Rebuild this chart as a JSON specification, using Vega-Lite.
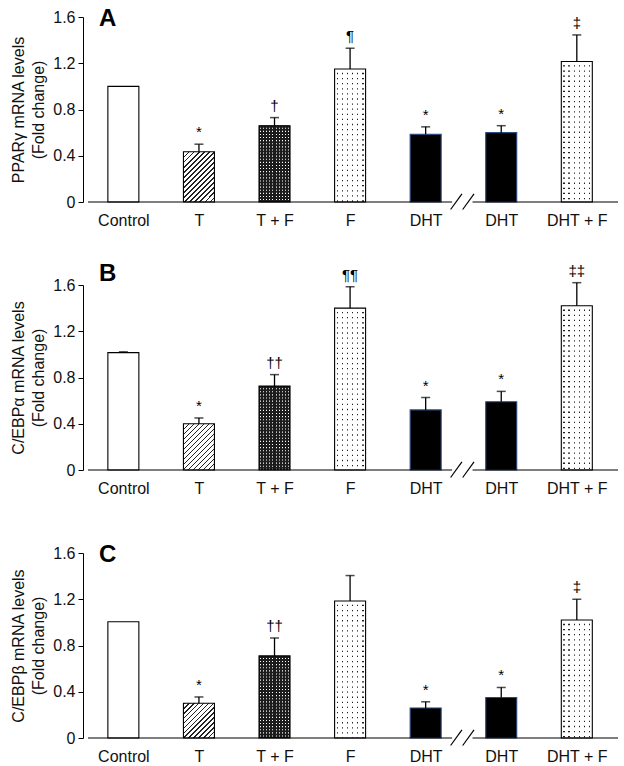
{
  "$schema": "https://vega.github.io/schema/vega-lite/v6.json",
  "autosize": {"type": "pad"},
  "padding": {"left": 10, "top": 7, "right": 0, "bottom": 0},
  "background": "white",
  "config": {
    "view": {"stroke": null},
    "font": "Liberation Sans",
    "axis": {"labelFont": "Liberation Sans", "titleFont": "Liberation Sans", "labelFontSize": 16, "titleFontSize": 16, "labelColor": "#111", "titleColor": "#111", "domainColor": "#000", "tickColor": "#000", "grid": false, "titleFontWeight": "normal"},
    "title": {"font": "Liberation Sans", "fontSize": 24, "fontWeight": "bold", "anchor": "start", "frame": "group", "color": "#000"}
  },
  "datasets": {
    "bars": [
      {"panel": "A", "grp": "Control", "idx": 1, "value": 1.0, "err": null, "ann": ""},
      {"panel": "A", "grp": "T", "idx": 2, "value": 0.435, "err": 0.5, "ann": "*"},
      {"panel": "A", "grp": "T + F", "idx": 3, "value": 0.66, "err": 0.73, "ann": "†"},
      {"panel": "A", "grp": "F", "idx": 4, "value": 1.15, "err": 1.33, "ann": "¶"},
      {"panel": "A", "grp": "DHT", "idx": 5, "value": 0.585, "err": 0.65, "ann": "*"},
      {"panel": "A", "grp": "DHT", "idx": 6, "value": 0.6, "err": 0.66, "ann": "*"},
      {"panel": "A", "grp": "DHT + F", "idx": 7, "value": 1.215, "err": 1.445, "ann": "‡"},
      {"panel": "B", "grp": "Control", "idx": 1, "value": 1.015, "err": 1.022, "ann": ""},
      {"panel": "B", "grp": "T", "idx": 2, "value": 0.4, "err": 0.45, "ann": "*"},
      {"panel": "B", "grp": "T + F", "idx": 3, "value": 0.725, "err": 0.825, "ann": "††"},
      {"panel": "B", "grp": "F", "idx": 4, "value": 1.4, "err": 1.585, "ann": "¶¶"},
      {"panel": "B", "grp": "DHT", "idx": 5, "value": 0.52, "err": 0.627, "ann": "*"},
      {"panel": "B", "grp": "DHT", "idx": 6, "value": 0.59, "err": 0.68, "ann": "*"},
      {"panel": "B", "grp": "DHT + F", "idx": 7, "value": 1.42, "err": 1.62, "ann": "‡‡"},
      {"panel": "C", "grp": "Control", "idx": 1, "value": 1.005, "err": null, "ann": ""},
      {"panel": "C", "grp": "T", "idx": 2, "value": 0.3, "err": 0.355, "ann": "*"},
      {"panel": "C", "grp": "T + F", "idx": 3, "value": 0.71, "err": 0.865, "ann": "††"},
      {"panel": "C", "grp": "F", "idx": 4, "value": 1.185, "err": 1.405, "ann": ""},
      {"panel": "C", "grp": "DHT", "idx": 5, "value": 0.26, "err": 0.313, "ann": "*"},
      {"panel": "C", "grp": "DHT", "idx": 6, "value": 0.35, "err": 0.437, "ann": "*"},
      {"panel": "C", "grp": "DHT + F", "idx": 7, "value": 1.02, "err": 1.2, "ann": "‡"}
    ],
    "baseline": [
      {"from": 0.532, "to": 5.35},
      {"from": 5.62, "to": 7.545}
    ],
    "breaks": [
      {"from": 5.33, "to": 5.48, "lo": -0.065, "hi": 0.07},
      {"from": 5.49, "to": 5.64, "lo": -0.065, "hi": 0.07}
    ]
  },
  "vconcat": [
    {
      "width": 540, "height": 185,
      "title": {"text": "A", "dx": 16, "offset": -22},
      "layer": [
        {
          "data": {"name": "bars"},
          "transform": [{"filter": "datum.panel === 'A'"}],
          "mark": {"type": "bar", "width": 31, "strokeWidth": 0},
          "encoding": {
            "x": {"field": "idx", "type": "quantitative", "scale": {"domain": [0.532, 7.545], "nice": false, "zero": false},
              "axis": {"values": [1, 2, 3, 4, 5, 6, 7], "ticks": false, "domain": false, "labelPadding": 10, "title": null, "labelFlush": false, "labelOverlap": false,
                "labelExpr": "['', 'Control', 'T', 'T + F', 'F', 'DHT', 'DHT', 'DHT + F'][datum.value]"}},
            "y": {"field": "value", "type": "quantitative", "scale": {"domain": [0, 1.6], "nice": false},
              "axis": {"values": [0, 0.4, 0.8, 1.2, 1.6], "tickSize": 5, "labelPadding": 3, "titlePadding": 6, "titleLineHeight": 20,
                "labelExpr": "datum.value === 0 ? '0' : format(datum.value, '.1f')",
                "title": ["PPARγ mRNA levels", "(Fold change)"]}},
            "fill": {"field": "grp", "type": "nominal", "legend": null,
              "scale": {"domain": ["Control", "T", "T + F", "F", "DHT", "DHT + F"], "range": ["#ffffff", "#ffffff", "#1c1c1c", "#ffffff", "#000000", "#ffffff"]}}
          }
        },
        {
          "data": {"name": "bars"},
          "transform": [{"filter": "datum.panel === 'A' && datum.grp === 'T'"}],
          "mark": {"type": "bar", "width": 31, "strokeWidth": 0, "fill": {"gradient": "linear", "x1": 0, "y1": 0, "x2": 1, "y2": 1.62, "stops": [
            {"offset": 0, "color": "#222"}, {"offset": 0.015, "color": "#222"}, {"offset": 0.015, "color": "#fff"}, {"offset": 0.045, "color": "#fff"},
            {"offset": 0.045, "color": "#222"}, {"offset": 0.06, "color": "#222"}, {"offset": 0.06, "color": "#fff"}, {"offset": 0.09, "color": "#fff"},
            {"offset": 0.09, "color": "#222"}, {"offset": 0.105, "color": "#222"}, {"offset": 0.105, "color": "#fff"}, {"offset": 0.135, "color": "#fff"},
            {"offset": 0.135, "color": "#222"}, {"offset": 0.15, "color": "#222"}, {"offset": 0.15, "color": "#fff"}, {"offset": 0.18, "color": "#fff"},
            {"offset": 0.18, "color": "#222"}, {"offset": 0.195, "color": "#222"}, {"offset": 0.195, "color": "#fff"}, {"offset": 0.225, "color": "#fff"},
            {"offset": 0.225, "color": "#222"}, {"offset": 0.24, "color": "#222"}, {"offset": 0.24, "color": "#fff"}, {"offset": 0.27, "color": "#fff"},
            {"offset": 0.27, "color": "#222"}, {"offset": 0.285, "color": "#222"}, {"offset": 0.285, "color": "#fff"}, {"offset": 0.315, "color": "#fff"},
            {"offset": 0.315, "color": "#222"}, {"offset": 0.33, "color": "#222"}, {"offset": 0.33, "color": "#fff"}, {"offset": 0.36, "color": "#fff"},
            {"offset": 0.36, "color": "#222"}, {"offset": 0.375, "color": "#222"}, {"offset": 0.375, "color": "#fff"}, {"offset": 0.405, "color": "#fff"},
            {"offset": 0.405, "color": "#222"}, {"offset": 0.42, "color": "#222"}, {"offset": 0.42, "color": "#fff"}, {"offset": 0.45, "color": "#fff"},
            {"offset": 0.45, "color": "#222"}, {"offset": 0.465, "color": "#222"}, {"offset": 0.465, "color": "#fff"}, {"offset": 0.495, "color": "#fff"},
            {"offset": 0.495, "color": "#222"}, {"offset": 0.51, "color": "#222"}, {"offset": 0.51, "color": "#fff"}, {"offset": 0.54, "color": "#fff"},
            {"offset": 0.54, "color": "#222"}, {"offset": 0.555, "color": "#222"}, {"offset": 0.555, "color": "#fff"}, {"offset": 0.585, "color": "#fff"},
            {"offset": 0.585, "color": "#222"}, {"offset": 0.6, "color": "#222"}, {"offset": 0.6, "color": "#fff"}, {"offset": 0.63, "color": "#fff"},
            {"offset": 0.63, "color": "#222"}, {"offset": 0.645, "color": "#222"}, {"offset": 0.645, "color": "#fff"}, {"offset": 0.675, "color": "#fff"},
            {"offset": 0.675, "color": "#222"}, {"offset": 0.69, "color": "#222"}, {"offset": 0.69, "color": "#fff"}, {"offset": 0.72, "color": "#fff"},
            {"offset": 0.72, "color": "#222"}, {"offset": 0.735, "color": "#222"}, {"offset": 0.735, "color": "#fff"}, {"offset": 0.765, "color": "#fff"},
            {"offset": 0.765, "color": "#222"}, {"offset": 0.78, "color": "#222"}, {"offset": 0.78, "color": "#fff"}, {"offset": 1, "color": "#fff"}
          ]}},
          "encoding": {"x": {"field": "idx", "type": "quantitative"}, "y": {"field": "value", "type": "quantitative"}}
        },
        {
          "data": {"name": "bars"},
          "transform": [{"filter": "datum.panel === 'A' && (datum.grp === 'F' || datum.grp === 'DHT + F')"}],
          "mark": {"type": "bar", "width": 31, "strokeWidth": 0, "fill": {"gradient": "linear", "x1": 0, "y1": 0, "x2": 1, "y2": 0, "stops": [
            {"offset": 0, "color": "#fff"},
            {"offset": 0.062, "color": "#fff"}, {"offset": 0.062, "color": "#222"}, {"offset": 0.104, "color": "#222"}, {"offset": 0.104, "color": "#fff"},
            {"offset": 0.229, "color": "#fff"}, {"offset": 0.229, "color": "#222"}, {"offset": 0.271, "color": "#222"}, {"offset": 0.271, "color": "#fff"},
            {"offset": 0.396, "color": "#fff"}, {"offset": 0.396, "color": "#222"}, {"offset": 0.438, "color": "#222"}, {"offset": 0.438, "color": "#fff"},
            {"offset": 0.562, "color": "#fff"}, {"offset": 0.562, "color": "#222"}, {"offset": 0.604, "color": "#222"}, {"offset": 0.604, "color": "#fff"},
            {"offset": 0.729, "color": "#fff"}, {"offset": 0.729, "color": "#222"}, {"offset": 0.771, "color": "#222"}, {"offset": 0.771, "color": "#fff"},
            {"offset": 0.896, "color": "#fff"}, {"offset": 0.896, "color": "#222"}, {"offset": 0.938, "color": "#222"}, {"offset": 0.938, "color": "#fff"},
            {"offset": 1, "color": "#fff"}
          ]}},
          "encoding": {"x": {"field": "idx", "type": "quantitative"}, "y": {"field": "value", "type": "quantitative"}}
        },
        {
          "data": {"name": "bars"},
          "transform": [{"filter": "datum.panel === 'A' && (datum.grp === 'F' || datum.grp === 'DHT + F')"}],
          "mark": {"type": "rule", "color": "#fff", "strokeWidth": 30, "strokeDash": [3.8, 1.3]},
          "encoding": {"x": {"field": "idx", "type": "quantitative"}, "y": {"field": "value", "type": "quantitative"}, "y2": {"datum": 0}}
        },
        {
          "data": {"name": "bars"},
          "transform": [{"filter": "datum.panel === 'A' && datum.grp === 'T + F'"}],
          "mark": {"type": "bar", "width": 31, "strokeWidth": 0, "fill": {"gradient": "linear", "x1": 0, "y1": 0, "x2": 1, "y2": 0, "stops": [
            {"offset": 0, "color": "#1c1c1c"},
            {"offset": 0.034, "color": "#1c1c1c"}, {"offset": 0.034, "color": "#fff"}, {"offset": 0.066, "color": "#fff"}, {"offset": 0.066, "color": "#1c1c1c"},
            {"offset": 0.134, "color": "#1c1c1c"}, {"offset": 0.134, "color": "#fff"}, {"offset": 0.166, "color": "#fff"}, {"offset": 0.166, "color": "#1c1c1c"},
            {"offset": 0.234, "color": "#1c1c1c"}, {"offset": 0.234, "color": "#fff"}, {"offset": 0.266, "color": "#fff"}, {"offset": 0.266, "color": "#1c1c1c"},
            {"offset": 0.334, "color": "#1c1c1c"}, {"offset": 0.334, "color": "#fff"}, {"offset": 0.366, "color": "#fff"}, {"offset": 0.366, "color": "#1c1c1c"},
            {"offset": 0.434, "color": "#1c1c1c"}, {"offset": 0.434, "color": "#fff"}, {"offset": 0.466, "color": "#fff"}, {"offset": 0.466, "color": "#1c1c1c"},
            {"offset": 0.534, "color": "#1c1c1c"}, {"offset": 0.534, "color": "#fff"}, {"offset": 0.566, "color": "#fff"}, {"offset": 0.566, "color": "#1c1c1c"},
            {"offset": 0.634, "color": "#1c1c1c"}, {"offset": 0.634, "color": "#fff"}, {"offset": 0.666, "color": "#fff"}, {"offset": 0.666, "color": "#1c1c1c"},
            {"offset": 0.734, "color": "#1c1c1c"}, {"offset": 0.734, "color": "#fff"}, {"offset": 0.766, "color": "#fff"}, {"offset": 0.766, "color": "#1c1c1c"},
            {"offset": 0.834, "color": "#1c1c1c"}, {"offset": 0.834, "color": "#fff"}, {"offset": 0.866, "color": "#fff"}, {"offset": 0.866, "color": "#1c1c1c"},
            {"offset": 0.934, "color": "#1c1c1c"}, {"offset": 0.934, "color": "#fff"}, {"offset": 0.966, "color": "#fff"}, {"offset": 0.966, "color": "#1c1c1c"},
            {"offset": 1, "color": "#1c1c1c"}
          ]}},
          "encoding": {"x": {"field": "idx", "type": "quantitative"}, "y": {"field": "value", "type": "quantitative"}}
        },
        {
          "data": {"name": "bars"},
          "transform": [{"filter": "datum.panel === 'A' && datum.grp === 'T + F'"}],
          "mark": {"type": "rule", "color": "#1c1c1c", "strokeWidth": 30, "strokeDash": [2, 1.1]},
          "encoding": {"x": {"field": "idx", "type": "quantitative"}, "y": {"field": "value", "type": "quantitative"}, "y2": {"datum": 0}}
        },
        {
          "data": {"name": "bars"},
          "transform": [{"filter": "datum.panel === 'A'"}],
          "mark": {"type": "bar", "width": 31, "strokeWidth": 1.1, "fill": "transparent"},
          "encoding": {
            "x": {"field": "idx", "type": "quantitative"},
            "y": {"field": "value", "type": "quantitative"},
            "stroke": {"field": "grp", "type": "nominal", "legend": null,
              "scale": {"domain": ["Control", "T", "T + F", "F", "DHT", "DHT + F"], "range": ["#000", "#000", "#000", "#000", "#2a4a80", "#000"]}}
          }
        },
        {
          "data": {"name": "bars"},
          "transform": [{"filter": "datum.panel === 'A' && datum.err != null"}],
          "mark": {"type": "rule", "color": "#000", "strokeWidth": 1.3},
          "encoding": {"x": {"field": "idx", "type": "quantitative"}, "y": {"field": "value", "type": "quantitative"}, "y2": {"field": "err"}}
        },
        {
          "data": {"name": "bars"},
          "transform": [{"filter": "datum.panel === 'A' && datum.err != null"}],
          "mark": {"type": "tick", "orient": "horizontal", "size": 9, "thickness": 1.5, "color": "#000"},
          "encoding": {"x": {"field": "idx", "type": "quantitative"}, "y": {"field": "err", "type": "quantitative"}}
        },
        {
          "data": {"name": "bars"},
          "transform": [{"filter": "datum.panel === 'A' && datum.err != null"}],
          "mark": {"type": "text", "fontSize": 15, "baseline": "alphabetic", "dy": -7, "color": "#000"},
          "encoding": {"x": {"field": "idx", "type": "quantitative"}, "y": {"field": "err", "type": "quantitative"}, "text": {"field": "ann"}}
        },
        {
          "data": {"name": "baseline"},
          "mark": {"type": "rule", "color": "#000", "strokeWidth": 1.2},
          "encoding": {"x": {"field": "from", "type": "quantitative"}, "x2": {"field": "to"}, "y": {"datum": 0}}
        },
        {
          "data": {"name": "breaks"},
          "mark": {"type": "rule", "color": "#000", "strokeWidth": 1.2},
          "encoding": {"x": {"field": "from", "type": "quantitative"}, "x2": {"field": "to"}, "y": {"field": "lo", "type": "quantitative"}, "y2": {"field": "hi"}}
        }
      ]
    },
    {
      "width": 540, "height": 185,
      "title": {"text": "B", "dx": 16, "offset": -22},
      "layer": [
        {
          "data": {"name": "bars"},
          "transform": [{"filter": "datum.panel === 'B'"}],
          "mark": {"type": "bar", "width": 31, "strokeWidth": 0},
          "encoding": {
            "x": {"field": "idx", "type": "quantitative", "scale": {"domain": [0.532, 7.545], "nice": false, "zero": false},
              "axis": {"values": [1, 2, 3, 4, 5, 6, 7], "ticks": false, "domain": false, "labelPadding": 10, "title": null, "labelFlush": false, "labelOverlap": false,
                "labelExpr": "['', 'Control', 'T', 'T + F', 'F', 'DHT', 'DHT', 'DHT + F'][datum.value]"}},
            "y": {"field": "value", "type": "quantitative", "scale": {"domain": [0, 1.6], "nice": false},
              "axis": {"values": [0, 0.4, 0.8, 1.2, 1.6], "tickSize": 5, "labelPadding": 3, "titlePadding": 6, "titleLineHeight": 20,
                "labelExpr": "datum.value === 0 ? '0' : format(datum.value, '.1f')",
                "title": ["C/EBPα mRNA levels", "(Fold change)"]}},
            "fill": {"field": "grp", "type": "nominal", "legend": null,
              "scale": {"domain": ["Control", "T", "T + F", "F", "DHT", "DHT + F"], "range": ["#ffffff", "#ffffff", "#1c1c1c", "#ffffff", "#000000", "#ffffff"]}}
          }
        },
        {
          "data": {"name": "bars"},
          "transform": [{"filter": "datum.panel === 'B' && datum.grp === 'T'"}],
          "mark": {"type": "bar", "width": 31, "strokeWidth": 0, "fill": {"gradient": "linear", "x1": 0, "y1": 0, "x2": 1, "y2": 1.49, "stops": [
            {"offset": 0, "color": "#222"}, {"offset": 0.016, "color": "#222"}, {"offset": 0.016, "color": "#fff"}, {"offset": 0.05, "color": "#fff"},
            {"offset": 0.05, "color": "#222"}, {"offset": 0.066, "color": "#222"}, {"offset": 0.066, "color": "#fff"}, {"offset": 0.1, "color": "#fff"},
            {"offset": 0.1, "color": "#222"}, {"offset": 0.116, "color": "#222"}, {"offset": 0.116, "color": "#fff"}, {"offset": 0.15, "color": "#fff"},
            {"offset": 0.15, "color": "#222"}, {"offset": 0.166, "color": "#222"}, {"offset": 0.166, "color": "#fff"}, {"offset": 0.2, "color": "#fff"},
            {"offset": 0.2, "color": "#222"}, {"offset": 0.216, "color": "#222"}, {"offset": 0.216, "color": "#fff"}, {"offset": 0.25, "color": "#fff"},
            {"offset": 0.25, "color": "#222"}, {"offset": 0.266, "color": "#222"}, {"offset": 0.266, "color": "#fff"}, {"offset": 0.3, "color": "#fff"},
            {"offset": 0.3, "color": "#222"}, {"offset": 0.316, "color": "#222"}, {"offset": 0.316, "color": "#fff"}, {"offset": 0.35, "color": "#fff"},
            {"offset": 0.35, "color": "#222"}, {"offset": 0.366, "color": "#222"}, {"offset": 0.366, "color": "#fff"}, {"offset": 0.4, "color": "#fff"},
            {"offset": 0.4, "color": "#222"}, {"offset": 0.416, "color": "#222"}, {"offset": 0.416, "color": "#fff"}, {"offset": 0.45, "color": "#fff"},
            {"offset": 0.45, "color": "#222"}, {"offset": 0.466, "color": "#222"}, {"offset": 0.466, "color": "#fff"}, {"offset": 0.5, "color": "#fff"},
            {"offset": 0.5, "color": "#222"}, {"offset": 0.516, "color": "#222"}, {"offset": 0.516, "color": "#fff"}, {"offset": 0.55, "color": "#fff"},
            {"offset": 0.55, "color": "#222"}, {"offset": 0.566, "color": "#222"}, {"offset": 0.566, "color": "#fff"}, {"offset": 0.6, "color": "#fff"},
            {"offset": 0.6, "color": "#222"}, {"offset": 0.616, "color": "#222"}, {"offset": 0.616, "color": "#fff"}, {"offset": 0.65, "color": "#fff"},
            {"offset": 0.65, "color": "#222"}, {"offset": 0.666, "color": "#222"}, {"offset": 0.666, "color": "#fff"}, {"offset": 0.7, "color": "#fff"},
            {"offset": 0.7, "color": "#222"}, {"offset": 0.716, "color": "#222"}, {"offset": 0.716, "color": "#fff"}, {"offset": 0.75, "color": "#fff"},
            {"offset": 0.75, "color": "#222"}, {"offset": 0.766, "color": "#222"}, {"offset": 0.766, "color": "#fff"}, {"offset": 0.8, "color": "#fff"},
            {"offset": 0.8, "color": "#222"}, {"offset": 0.816, "color": "#222"}, {"offset": 0.816, "color": "#fff"}, {"offset": 1, "color": "#fff"}
          ]}},
          "encoding": {"x": {"field": "idx", "type": "quantitative"}, "y": {"field": "value", "type": "quantitative"}}
        },
        {
          "data": {"name": "bars"},
          "transform": [{"filter": "datum.panel === 'B' && (datum.grp === 'F' || datum.grp === 'DHT + F')"}],
          "mark": {"type": "bar", "width": 31, "strokeWidth": 0, "fill": {"gradient": "linear", "x1": 0, "y1": 0, "x2": 1, "y2": 0, "stops": [
            {"offset": 0, "color": "#fff"},
            {"offset": 0.062, "color": "#fff"}, {"offset": 0.062, "color": "#222"}, {"offset": 0.104, "color": "#222"}, {"offset": 0.104, "color": "#fff"},
            {"offset": 0.229, "color": "#fff"}, {"offset": 0.229, "color": "#222"}, {"offset": 0.271, "color": "#222"}, {"offset": 0.271, "color": "#fff"},
            {"offset": 0.396, "color": "#fff"}, {"offset": 0.396, "color": "#222"}, {"offset": 0.438, "color": "#222"}, {"offset": 0.438, "color": "#fff"},
            {"offset": 0.562, "color": "#fff"}, {"offset": 0.562, "color": "#222"}, {"offset": 0.604, "color": "#222"}, {"offset": 0.604, "color": "#fff"},
            {"offset": 0.729, "color": "#fff"}, {"offset": 0.729, "color": "#222"}, {"offset": 0.771, "color": "#222"}, {"offset": 0.771, "color": "#fff"},
            {"offset": 0.896, "color": "#fff"}, {"offset": 0.896, "color": "#222"}, {"offset": 0.938, "color": "#222"}, {"offset": 0.938, "color": "#fff"},
            {"offset": 1, "color": "#fff"}
          ]}},
          "encoding": {"x": {"field": "idx", "type": "quantitative"}, "y": {"field": "value", "type": "quantitative"}}
        },
        {
          "data": {"name": "bars"},
          "transform": [{"filter": "datum.panel === 'B' && (datum.grp === 'F' || datum.grp === 'DHT + F')"}],
          "mark": {"type": "rule", "color": "#fff", "strokeWidth": 30, "strokeDash": [3.8, 1.3]},
          "encoding": {"x": {"field": "idx", "type": "quantitative"}, "y": {"field": "value", "type": "quantitative"}, "y2": {"datum": 0}}
        },
        {
          "data": {"name": "bars"},
          "transform": [{"filter": "datum.panel === 'B' && datum.grp === 'T + F'"}],
          "mark": {"type": "bar", "width": 31, "strokeWidth": 0, "fill": {"gradient": "linear", "x1": 0, "y1": 0, "x2": 1, "y2": 0, "stops": [
            {"offset": 0, "color": "#1c1c1c"},
            {"offset": 0.034, "color": "#1c1c1c"}, {"offset": 0.034, "color": "#fff"}, {"offset": 0.066, "color": "#fff"}, {"offset": 0.066, "color": "#1c1c1c"},
            {"offset": 0.134, "color": "#1c1c1c"}, {"offset": 0.134, "color": "#fff"}, {"offset": 0.166, "color": "#fff"}, {"offset": 0.166, "color": "#1c1c1c"},
            {"offset": 0.234, "color": "#1c1c1c"}, {"offset": 0.234, "color": "#fff"}, {"offset": 0.266, "color": "#fff"}, {"offset": 0.266, "color": "#1c1c1c"},
            {"offset": 0.334, "color": "#1c1c1c"}, {"offset": 0.334, "color": "#fff"}, {"offset": 0.366, "color": "#fff"}, {"offset": 0.366, "color": "#1c1c1c"},
            {"offset": 0.434, "color": "#1c1c1c"}, {"offset": 0.434, "color": "#fff"}, {"offset": 0.466, "color": "#fff"}, {"offset": 0.466, "color": "#1c1c1c"},
            {"offset": 0.534, "color": "#1c1c1c"}, {"offset": 0.534, "color": "#fff"}, {"offset": 0.566, "color": "#fff"}, {"offset": 0.566, "color": "#1c1c1c"},
            {"offset": 0.634, "color": "#1c1c1c"}, {"offset": 0.634, "color": "#fff"}, {"offset": 0.666, "color": "#fff"}, {"offset": 0.666, "color": "#1c1c1c"},
            {"offset": 0.734, "color": "#1c1c1c"}, {"offset": 0.734, "color": "#fff"}, {"offset": 0.766, "color": "#fff"}, {"offset": 0.766, "color": "#1c1c1c"},
            {"offset": 0.834, "color": "#1c1c1c"}, {"offset": 0.834, "color": "#fff"}, {"offset": 0.866, "color": "#fff"}, {"offset": 0.866, "color": "#1c1c1c"},
            {"offset": 0.934, "color": "#1c1c1c"}, {"offset": 0.934, "color": "#fff"}, {"offset": 0.966, "color": "#fff"}, {"offset": 0.966, "color": "#1c1c1c"},
            {"offset": 1, "color": "#1c1c1c"}
          ]}},
          "encoding": {"x": {"field": "idx", "type": "quantitative"}, "y": {"field": "value", "type": "quantitative"}}
        },
        {
          "data": {"name": "bars"},
          "transform": [{"filter": "datum.panel === 'B' && datum.grp === 'T + F'"}],
          "mark": {"type": "rule", "color": "#1c1c1c", "strokeWidth": 30, "strokeDash": [2, 1.1]},
          "encoding": {"x": {"field": "idx", "type": "quantitative"}, "y": {"field": "value", "type": "quantitative"}, "y2": {"datum": 0}}
        },
        {
          "data": {"name": "bars"},
          "transform": [{"filter": "datum.panel === 'B'"}],
          "mark": {"type": "bar", "width": 31, "strokeWidth": 1.1, "fill": "transparent"},
          "encoding": {
            "x": {"field": "idx", "type": "quantitative"},
            "y": {"field": "value", "type": "quantitative"},
            "stroke": {"field": "grp", "type": "nominal", "legend": null,
              "scale": {"domain": ["Control", "T", "T + F", "F", "DHT", "DHT + F"], "range": ["#000", "#000", "#000", "#000", "#2a4a80", "#000"]}}
          }
        },
        {
          "data": {"name": "bars"},
          "transform": [{"filter": "datum.panel === 'B' && datum.err != null"}],
          "mark": {"type": "rule", "color": "#000", "strokeWidth": 1.3},
          "encoding": {"x": {"field": "idx", "type": "quantitative"}, "y": {"field": "value", "type": "quantitative"}, "y2": {"field": "err"}}
        },
        {
          "data": {"name": "bars"},
          "transform": [{"filter": "datum.panel === 'B' && datum.err != null"}],
          "mark": {"type": "tick", "orient": "horizontal", "size": 9, "thickness": 1.5, "color": "#000"},
          "encoding": {"x": {"field": "idx", "type": "quantitative"}, "y": {"field": "err", "type": "quantitative"}}
        },
        {
          "data": {"name": "bars"},
          "transform": [{"filter": "datum.panel === 'B' && datum.err != null"}],
          "mark": {"type": "text", "fontSize": 15, "baseline": "alphabetic", "dy": -7, "color": "#000"},
          "encoding": {"x": {"field": "idx", "type": "quantitative"}, "y": {"field": "err", "type": "quantitative"}, "text": {"field": "ann"}}
        },
        {
          "data": {"name": "baseline"},
          "mark": {"type": "rule", "color": "#000", "strokeWidth": 1.2},
          "encoding": {"x": {"field": "from", "type": "quantitative"}, "x2": {"field": "to"}, "y": {"datum": 0}}
        },
        {
          "data": {"name": "breaks"},
          "mark": {"type": "rule", "color": "#000", "strokeWidth": 1.2},
          "encoding": {"x": {"field": "from", "type": "quantitative"}, "x2": {"field": "to"}, "y": {"field": "lo", "type": "quantitative"}, "y2": {"field": "hi"}}
        }
      ]
    },
    {
      "width": 540, "height": 185,
      "title": {"text": "C", "dx": 16, "offset": -22},
      "layer": [
        {
          "data": {"name": "bars"},
          "transform": [{"filter": "datum.panel === 'C'"}],
          "mark": {"type": "bar", "width": 31, "strokeWidth": 0},
          "encoding": {
            "x": {"field": "idx", "type": "quantitative", "scale": {"domain": [0.532, 7.545], "nice": false, "zero": false},
              "axis": {"values": [1, 2, 3, 4, 5, 6, 7], "ticks": false, "domain": false, "labelPadding": 10, "title": null, "labelFlush": false, "labelOverlap": false,
                "labelExpr": "['', 'Control', 'T', 'T + F', 'F', 'DHT', 'DHT', 'DHT + F'][datum.value]"}},
            "y": {"field": "value", "type": "quantitative", "scale": {"domain": [0, 1.6], "nice": false},
              "axis": {"values": [0, 0.4, 0.8, 1.2, 1.6], "tickSize": 5, "labelPadding": 3, "titlePadding": 6, "titleLineHeight": 20,
                "labelExpr": "datum.value === 0 ? '0' : format(datum.value, '.1f')",
                "title": ["C/EBPβ mRNA levels", "(Fold change)"]}},
            "fill": {"field": "grp", "type": "nominal", "legend": null,
              "scale": {"domain": ["Control", "T", "T + F", "F", "DHT", "DHT + F"], "range": ["#ffffff", "#ffffff", "#1c1c1c", "#ffffff", "#000000", "#ffffff"]}}
          }
        },
        {
          "data": {"name": "bars"},
          "transform": [{"filter": "datum.panel === 'C' && datum.grp === 'T'"}],
          "mark": {"type": "bar", "width": 31, "strokeWidth": 0, "fill": {"gradient": "linear", "x1": 0, "y1": 0, "x2": 1, "y2": 1.12, "stops": [
            {"offset": 0, "color": "#222"}, {"offset": 0.022, "color": "#222"}, {"offset": 0.022, "color": "#fff"}, {"offset": 0.07, "color": "#fff"},
            {"offset": 0.07, "color": "#222"}, {"offset": 0.092, "color": "#222"}, {"offset": 0.092, "color": "#fff"}, {"offset": 0.14, "color": "#fff"},
            {"offset": 0.14, "color": "#222"}, {"offset": 0.162, "color": "#222"}, {"offset": 0.162, "color": "#fff"}, {"offset": 0.21, "color": "#fff"},
            {"offset": 0.21, "color": "#222"}, {"offset": 0.232, "color": "#222"}, {"offset": 0.232, "color": "#fff"}, {"offset": 0.28, "color": "#fff"},
            {"offset": 0.28, "color": "#222"}, {"offset": 0.302, "color": "#222"}, {"offset": 0.302, "color": "#fff"}, {"offset": 0.35, "color": "#fff"},
            {"offset": 0.35, "color": "#222"}, {"offset": 0.372, "color": "#222"}, {"offset": 0.372, "color": "#fff"}, {"offset": 0.42, "color": "#fff"},
            {"offset": 0.42, "color": "#222"}, {"offset": 0.442, "color": "#222"}, {"offset": 0.442, "color": "#fff"}, {"offset": 0.49, "color": "#fff"},
            {"offset": 0.49, "color": "#222"}, {"offset": 0.512, "color": "#222"}, {"offset": 0.512, "color": "#fff"}, {"offset": 0.56, "color": "#fff"},
            {"offset": 0.56, "color": "#222"}, {"offset": 0.582, "color": "#222"}, {"offset": 0.582, "color": "#fff"}, {"offset": 0.63, "color": "#fff"},
            {"offset": 0.63, "color": "#222"}, {"offset": 0.652, "color": "#222"}, {"offset": 0.652, "color": "#fff"}, {"offset": 0.7, "color": "#fff"},
            {"offset": 0.7, "color": "#222"}, {"offset": 0.722, "color": "#222"}, {"offset": 0.722, "color": "#fff"}, {"offset": 0.77, "color": "#fff"},
            {"offset": 0.77, "color": "#222"}, {"offset": 0.792, "color": "#222"}, {"offset": 0.792, "color": "#fff"}, {"offset": 0.84, "color": "#fff"},
            {"offset": 0.84, "color": "#222"}, {"offset": 0.862, "color": "#222"}, {"offset": 0.862, "color": "#fff"}, {"offset": 0.91, "color": "#fff"},
            {"offset": 0.91, "color": "#222"}, {"offset": 0.932, "color": "#222"}, {"offset": 0.932, "color": "#fff"}, {"offset": 1, "color": "#fff"}
          ]}},
          "encoding": {"x": {"field": "idx", "type": "quantitative"}, "y": {"field": "value", "type": "quantitative"}}
        },
        {
          "data": {"name": "bars"},
          "transform": [{"filter": "datum.panel === 'C' && (datum.grp === 'F' || datum.grp === 'DHT + F')"}],
          "mark": {"type": "bar", "width": 31, "strokeWidth": 0, "fill": {"gradient": "linear", "x1": 0, "y1": 0, "x2": 1, "y2": 0, "stops": [
            {"offset": 0, "color": "#fff"},
            {"offset": 0.062, "color": "#fff"}, {"offset": 0.062, "color": "#222"}, {"offset": 0.104, "color": "#222"}, {"offset": 0.104, "color": "#fff"},
            {"offset": 0.229, "color": "#fff"}, {"offset": 0.229, "color": "#222"}, {"offset": 0.271, "color": "#222"}, {"offset": 0.271, "color": "#fff"},
            {"offset": 0.396, "color": "#fff"}, {"offset": 0.396, "color": "#222"}, {"offset": 0.438, "color": "#222"}, {"offset": 0.438, "color": "#fff"},
            {"offset": 0.562, "color": "#fff"}, {"offset": 0.562, "color": "#222"}, {"offset": 0.604, "color": "#222"}, {"offset": 0.604, "color": "#fff"},
            {"offset": 0.729, "color": "#fff"}, {"offset": 0.729, "color": "#222"}, {"offset": 0.771, "color": "#222"}, {"offset": 0.771, "color": "#fff"},
            {"offset": 0.896, "color": "#fff"}, {"offset": 0.896, "color": "#222"}, {"offset": 0.938, "color": "#222"}, {"offset": 0.938, "color": "#fff"},
            {"offset": 1, "color": "#fff"}
          ]}},
          "encoding": {"x": {"field": "idx", "type": "quantitative"}, "y": {"field": "value", "type": "quantitative"}}
        },
        {
          "data": {"name": "bars"},
          "transform": [{"filter": "datum.panel === 'C' && (datum.grp === 'F' || datum.grp === 'DHT + F')"}],
          "mark": {"type": "rule", "color": "#fff", "strokeWidth": 30, "strokeDash": [3.8, 1.3]},
          "encoding": {"x": {"field": "idx", "type": "quantitative"}, "y": {"field": "value", "type": "quantitative"}, "y2": {"datum": 0}}
        },
        {
          "data": {"name": "bars"},
          "transform": [{"filter": "datum.panel === 'C' && datum.grp === 'T + F'"}],
          "mark": {"type": "bar", "width": 31, "strokeWidth": 0, "fill": {"gradient": "linear", "x1": 0, "y1": 0, "x2": 1, "y2": 0, "stops": [
            {"offset": 0, "color": "#1c1c1c"},
            {"offset": 0.034, "color": "#1c1c1c"}, {"offset": 0.034, "color": "#fff"}, {"offset": 0.066, "color": "#fff"}, {"offset": 0.066, "color": "#1c1c1c"},
            {"offset": 0.134, "color": "#1c1c1c"}, {"offset": 0.134, "color": "#fff"}, {"offset": 0.166, "color": "#fff"}, {"offset": 0.166, "color": "#1c1c1c"},
            {"offset": 0.234, "color": "#1c1c1c"}, {"offset": 0.234, "color": "#fff"}, {"offset": 0.266, "color": "#fff"}, {"offset": 0.266, "color": "#1c1c1c"},
            {"offset": 0.334, "color": "#1c1c1c"}, {"offset": 0.334, "color": "#fff"}, {"offset": 0.366, "color": "#fff"}, {"offset": 0.366, "color": "#1c1c1c"},
            {"offset": 0.434, "color": "#1c1c1c"}, {"offset": 0.434, "color": "#fff"}, {"offset": 0.466, "color": "#fff"}, {"offset": 0.466, "color": "#1c1c1c"},
            {"offset": 0.534, "color": "#1c1c1c"}, {"offset": 0.534, "color": "#fff"}, {"offset": 0.566, "color": "#fff"}, {"offset": 0.566, "color": "#1c1c1c"},
            {"offset": 0.634, "color": "#1c1c1c"}, {"offset": 0.634, "color": "#fff"}, {"offset": 0.666, "color": "#fff"}, {"offset": 0.666, "color": "#1c1c1c"},
            {"offset": 0.734, "color": "#1c1c1c"}, {"offset": 0.734, "color": "#fff"}, {"offset": 0.766, "color": "#fff"}, {"offset": 0.766, "color": "#1c1c1c"},
            {"offset": 0.834, "color": "#1c1c1c"}, {"offset": 0.834, "color": "#fff"}, {"offset": 0.866, "color": "#fff"}, {"offset": 0.866, "color": "#1c1c1c"},
            {"offset": 0.934, "color": "#1c1c1c"}, {"offset": 0.934, "color": "#fff"}, {"offset": 0.966, "color": "#fff"}, {"offset": 0.966, "color": "#1c1c1c"},
            {"offset": 1, "color": "#1c1c1c"}
          ]}},
          "encoding": {"x": {"field": "idx", "type": "quantitative"}, "y": {"field": "value", "type": "quantitative"}}
        },
        {
          "data": {"name": "bars"},
          "transform": [{"filter": "datum.panel === 'C' && datum.grp === 'T + F'"}],
          "mark": {"type": "rule", "color": "#1c1c1c", "strokeWidth": 30, "strokeDash": [2, 1.1]},
          "encoding": {"x": {"field": "idx", "type": "quantitative"}, "y": {"field": "value", "type": "quantitative"}, "y2": {"datum": 0}}
        },
        {
          "data": {"name": "bars"},
          "transform": [{"filter": "datum.panel === 'C'"}],
          "mark": {"type": "bar", "width": 31, "strokeWidth": 1.1, "fill": "transparent"},
          "encoding": {
            "x": {"field": "idx", "type": "quantitative"},
            "y": {"field": "value", "type": "quantitative"},
            "stroke": {"field": "grp", "type": "nominal", "legend": null,
              "scale": {"domain": ["Control", "T", "T + F", "F", "DHT", "DHT + F"], "range": ["#000", "#000", "#000", "#000", "#2a4a80", "#000"]}}
          }
        },
        {
          "data": {"name": "bars"},
          "transform": [{"filter": "datum.panel === 'C' && datum.err != null"}],
          "mark": {"type": "rule", "color": "#000", "strokeWidth": 1.3},
          "encoding": {"x": {"field": "idx", "type": "quantitative"}, "y": {"field": "value", "type": "quantitative"}, "y2": {"field": "err"}}
        },
        {
          "data": {"name": "bars"},
          "transform": [{"filter": "datum.panel === 'C' && datum.err != null"}],
          "mark": {"type": "tick", "orient": "horizontal", "size": 9, "thickness": 1.5, "color": "#000"},
          "encoding": {"x": {"field": "idx", "type": "quantitative"}, "y": {"field": "err", "type": "quantitative"}}
        },
        {
          "data": {"name": "bars"},
          "transform": [{"filter": "datum.panel === 'C' && datum.err != null"}],
          "mark": {"type": "text", "fontSize": 15, "baseline": "alphabetic", "dy": -7, "color": "#000"},
          "encoding": {"x": {"field": "idx", "type": "quantitative"}, "y": {"field": "err", "type": "quantitative"}, "text": {"field": "ann"}}
        },
        {
          "data": {"name": "baseline"},
          "mark": {"type": "rule", "color": "#000", "strokeWidth": 1.2},
          "encoding": {"x": {"field": "from", "type": "quantitative"}, "x2": {"field": "to"}, "y": {"datum": 0}}
        },
        {
          "data": {"name": "breaks"},
          "mark": {"type": "rule", "color": "#000", "strokeWidth": 1.2},
          "encoding": {"x": {"field": "from", "type": "quantitative"}, "x2": {"field": "to"}, "y": {"field": "lo", "type": "quantitative"}, "y2": {"field": "hi"}}
        }
      ]
    }
  ],
  "spacing": 83,
  "bounds": "flush"
}
